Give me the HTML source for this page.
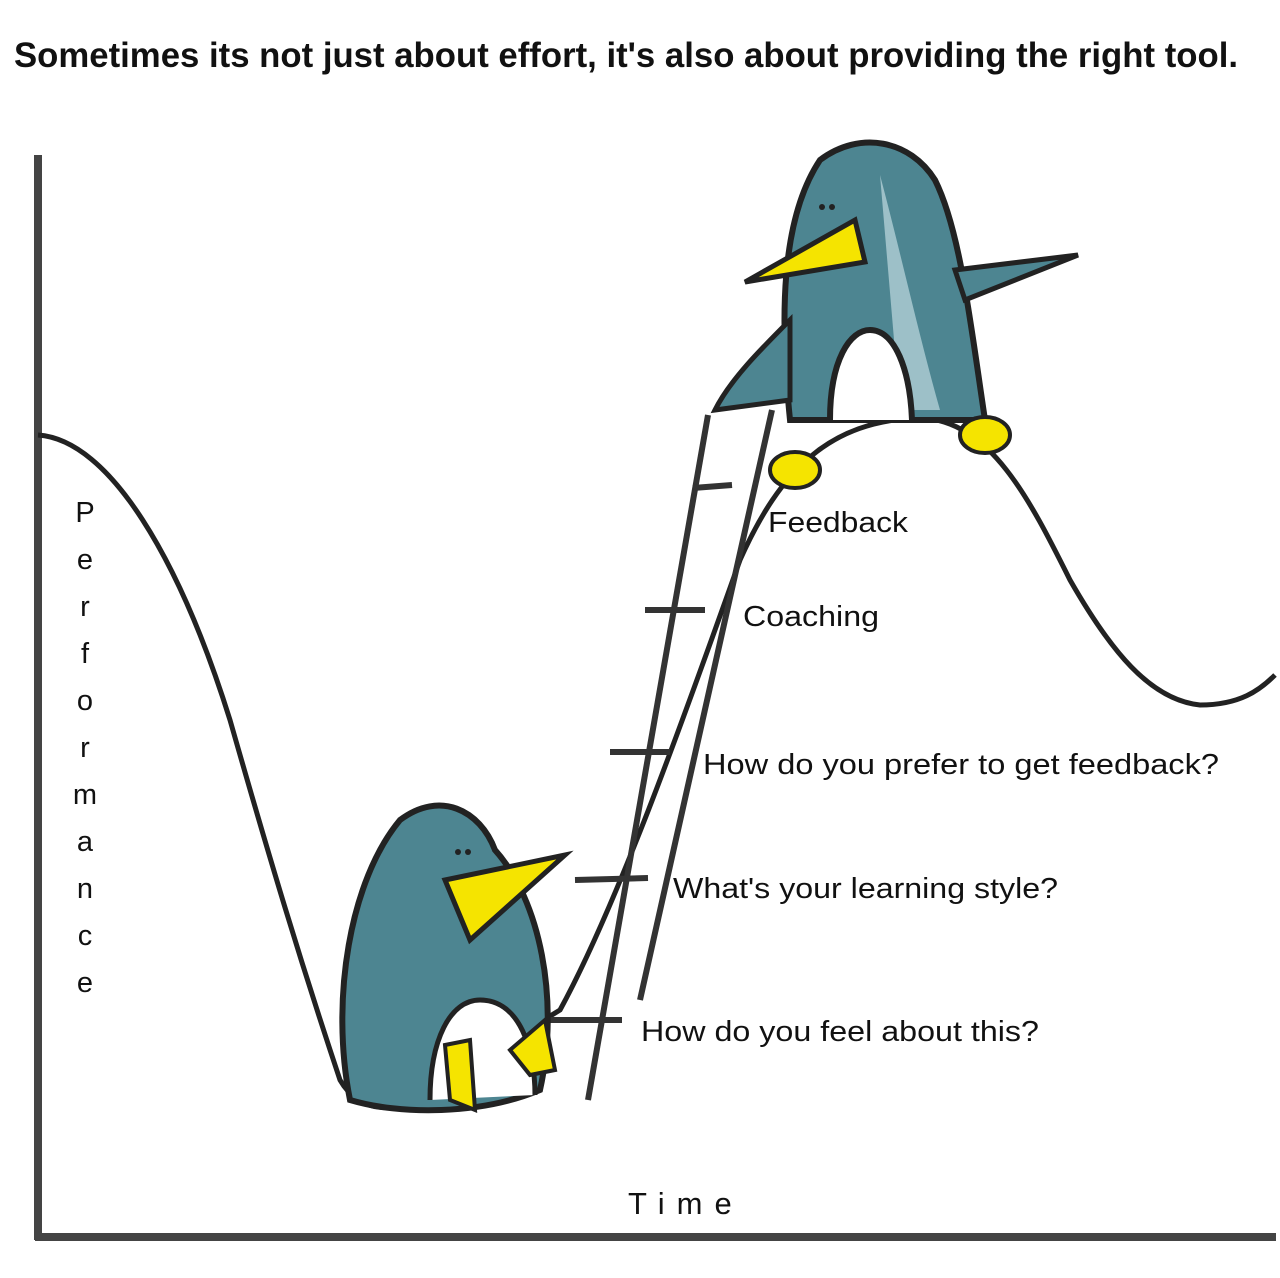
<!DOCTYPE html>
<html><head><meta charset="utf-8"><style>
html,body{margin:0;padding:0;background:#fff;}
svg{display:block;}
text{font-family:"Liberation Sans",sans-serif;fill:#111;}
</style></head><body>
<svg width="1280" height="1278" viewBox="0 0 1280 1278" xmlns="http://www.w3.org/2000/svg">
<text x="14" y="67" font-size="35" font-weight="bold" textLength="1224" lengthAdjust="spacingAndGlyphs">Sometimes its not just about effort, it's also about providing the right tool.</text>
<!-- axes -->
<line x1="38" y1="155" x2="38" y2="1240" stroke="#444" stroke-width="8"/>
<line x1="35" y1="1237" x2="1276" y2="1237" stroke="#444" stroke-width="8"/>
<!-- curve -->
<path d="M38,435 C110,440 180,560 230,720 C270,860 300,960 340,1080 C360,1115 400,1115 430,1090 L560,1010 C620,900 690,700 740,560 C780,470 830,420 920,418 C990,420 1030,500 1070,580 C1110,650 1150,700 1200,705 C1240,705 1260,690 1275,675" fill="none" stroke="#222" stroke-width="5"/>
<!-- ladder -->
<line x1="588" y1="1100" x2="708" y2="415" stroke="#333" stroke-width="6"/>
<line x1="640" y1="1000" x2="772" y2="410" stroke="#333" stroke-width="6"/>
<g stroke="#333" stroke-width="6">
<line x1="693" y1="488" x2="732" y2="485"/>
<line x1="645" y1="610" x2="705" y2="610"/>
<line x1="610" y1="752" x2="670" y2="752"/>
<line x1="575" y1="880" x2="648" y2="878"/>
<line x1="550" y1="1020" x2="622" y2="1020"/>
</g>
<!-- top penguin -->
<path d="M790,420 C780,320 780,220 820,160 C860,130 910,140 935,180 C960,230 970,320 985,420 Z" fill="#4d8591" stroke="#222" stroke-width="6"/>
<path d="M880,175 C900,250 920,340 940,410 L900,410 Z" fill="#9dc0c8"/>
<path d="M830,420 C830,360 850,330 870,330 C895,330 910,370 912,420" fill="#fff" stroke="#222" stroke-width="6"/>
<path d="M955,270 L1078,255 L965,300 Z" fill="#4d8591" stroke="#222" stroke-width="5"/>
<path d="M790,320 C760,350 730,380 715,410 L790,400 Z" fill="#4d8591" stroke="#222" stroke-width="5"/>
<path d="M745,282 L855,220 L865,262 Z" fill="#f5e400" stroke="#222" stroke-width="5"/>
<ellipse cx="985" cy="435" rx="25" ry="18" fill="#f5e400" stroke="#222" stroke-width="4"/>
<ellipse cx="795" cy="470" rx="25" ry="18" fill="#f5e400" stroke="#222" stroke-width="4"/>
<circle cx="822" cy="207" r="3" fill="#222"/><circle cx="832" cy="207" r="3" fill="#222"/>
<!-- bottom penguin -->
<path d="M350,1100 C330,1000 350,880 400,820 C440,790 480,810 495,850 C540,900 560,1000 540,1090 C480,1115 400,1115 350,1100 Z" fill="#4d8591" stroke="#222" stroke-width="6"/>
<path d="M430,1100 C430,1040 450,1000 480,1000 C520,1000 535,1050 535,1095" fill="#fff" stroke="#222" stroke-width="5"/>
<path d="M445,880 L565,855 L470,940 Z" fill="#f5e400" stroke="#222" stroke-width="5"/>
<path d="M445,1045 L470,1040 L475,1110 L450,1100 Z" fill="#f5e400" stroke="#222" stroke-width="4"/>
<path d="M510,1050 L545,1020 L555,1070 L530,1075 Z" fill="#f5e400" stroke="#222" stroke-width="4"/>
<circle cx="458" cy="852" r="3" fill="#222"/><circle cx="468" cy="852" r="3" fill="#222"/>
<!-- labels -->
<g font-size="29">
<text x="768" y="532" textLength="140" lengthAdjust="spacingAndGlyphs">Feedback</text>
<text x="743" y="626" textLength="136" lengthAdjust="spacingAndGlyphs">Coaching</text>
<text x="703" y="774" textLength="516" lengthAdjust="spacingAndGlyphs">How do you  prefer to get feedback?</text>
<text x="673" y="898" textLength="385" lengthAdjust="spacingAndGlyphs">What's your learning style?</text>
<text x="641" y="1041" textLength="398" lengthAdjust="spacingAndGlyphs">How do you feel about this?</text>
</g>
<g font-size="29" text-anchor="middle">
<text x="85" y="522">P</text><text x="85" y="569">e</text><text x="85" y="616">r</text><text x="85" y="663">f</text><text x="85" y="710">o</text><text x="85" y="757">r</text><text x="85" y="804">m</text><text x="85" y="851">a</text><text x="85" y="898">n</text><text x="85" y="945">c</text><text x="85" y="992">e</text>
</g>
<text x="628" y="1214" font-size="31" letter-spacing="12">Time</text>
</svg>
</body></html>
